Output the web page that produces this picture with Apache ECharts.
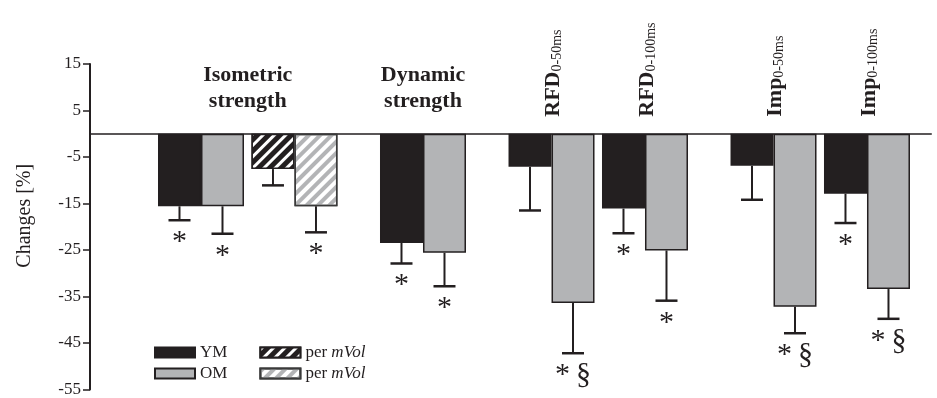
<!DOCTYPE html>
<html>
<head>
<meta charset="utf-8">
<script src="https://cdn.jsdelivr.net/npm/echarts@6/dist/echarts.min.js"></script>
<style>
html,body{margin:0;padding:0;background:#fff;}
#chart{width:937px;height:398px;}
</style>
</head>
<body>
<div id="chart"></div>
<script>
// ---- data ----
const categories = ['Isometric strength', 'Isometric strength per mVol', 'Dynamic strength', 'RFD 0-50ms', 'RFD 0-100ms', 'Imp 0-50ms', 'Imp 0-100ms'];
const groupOf = [0, 0, 1, 2, 2, 3, 3];
const ymValues = [-15.6, -7.6, -23.5, -7.1, -16.1, -6.9, -12.9];
const ymErrors = [3.0, 3.5, 4.4, 9.4, 5.3, 7.3, 6.3];
const omValues = [-15.6, -15.6, -25.6, -36.4, -25.1, -37.2, -33.4];
const omErrors = [5.9, 5.6, 7.2, 10.8, 10.8, 5.7, 6.4];
const ymSig = ['*', '', '*', '', '*', '', '*'];
const omSig = ['*', '*', '*', '*\u2009§', '*', '*\u2009§', '*\u2009§'];
const titleTexts = ['Isometric\nstrength', 'Dynamic\nstrength', 'RFD{s|0-50ms}', 'RFD{s|0-100ms}', 'Imp{s|0-50ms}', 'Imp{s|0-100ms}'];
const titleOf = [[0, 1], [2], [3], [4], [5], [6]];
const yTicks = [-55, -45, -35, -25, -15, -5, 5, 15];
const legendNames = ['YM', 'OM', 'YM per mVol', 'OM per mVol'];

// ---- layout on a fine category axis ----
const FONT = "'Liberation Serif', 'Times New Roman', serif";
const INK = '#231f20';
const GRAY = '#b3b4b6';
const START = 9, NEAR = 8, FAR = 11, TOTAL = 72;
const slot = [];
categories.forEach((c, i) => {
  slot.push(i === 0 ? START : slot[i - 1] + (groupOf[i] === groupOf[i - 1] ? NEAR : FAR));
});
const fineCats = Array.from({length: TOTAL}, (_, k) => String(k));
const isVol = i => i === 1;
function fine(values, pick) {
  const arr = new Array(TOTAL).fill(null);
  values.forEach((v, i) => { if (pick(i)) arr[slot[i]] = v; });
  return arr;
}
const BAR_W = 43;

function errSeries(name, values, errors, sig, sign) {
  return {
    type: 'custom', name: name + ' err', z: 5, silent: true,
    data: values.map((v, i) => [slot[i], v, errors[i]]),
    encode: {x: 0, y: 1},
    renderItem: function (params, api) {
      const s = api.value(0), v = api.value(1), e = api.value(2);
      const top = api.coord([s, v]);
      const end = api.coord([s, v - e]);
      const x = top[0] + sign * BAR_W / 2;
      const children = [
        {type: 'line', shape: {x1: x, y1: top[1], x2: x, y2: end[1]}, style: {stroke: INK, lineWidth: 2}},
        {type: 'line', shape: {x1: x - 11, y1: end[1], x2: x + 11, y2: end[1]}, style: {stroke: INK, lineWidth: 2.5}}
      ];
      const t = sig[params.dataIndex];
      if (t) {
        children.push({type: 'text', x: x, y: end[1] + 7, style: {text: t, fill: INK, font: '30px ' + FONT, align: 'center', verticalAlign: 'top'}});
      }
      return {type: 'group', children: children};
    }
  };
}

const titleSeries = {
  type: 'custom', name: 'titles', z: 6, silent: true,
  data: titleOf.map(ix => [ix.reduce((a, i) => a + slot[i], 0) / ix.length, 0]),
  encode: {x: 0, y: 1},
  renderItem: function (params, api) {
    const p = api.coord([api.value(0), 0]);
    const txt = titleTexts[params.dataIndex];
    if (txt.indexOf('\n') >= 0) {
      return {type: 'text', x: p[0], y: p[1] - 19, style: {
        text: txt, fill: INK, fontFamily: FONT, fontWeight: 'bold', fontSize: 22, lineHeight: 26,
        align: 'center', verticalAlign: 'bottom'}};
    }
    return {type: 'text', x: p[0] + 2, y: p[1] - 17, rotation: Math.PI / 2, style: {
      text: txt, fill: INK, fontFamily: FONT, fontWeight: 'bold', fontSize: 22, lineHeight: 22,
      align: 'left', verticalAlign: 'middle',
      rich: {s: {fontFamily: FONT, fontWeight: 'normal', fontSize: 14, lineHeight: 14, verticalAlign: 'bottom', fill: INK}}
    }};
  }
};

const chart = echarts.init(document.getElementById('chart'), null, {renderer: 'canvas'});
const volFormatter = function (name) { return name.indexOf('mVol') >= 0 ? 'per {i|mVol}' : name; };
const legendText = {fontFamily: FONT, fontSize: 17, color: INK, rich: {i: {fontFamily: FONT, fontSize: 17, fontStyle: 'italic', color: INK}}};
chart.setOption({
  animation: false,
  backgroundColor: '#fff',
  grid: {left: 90, top: 64, width: TOTAL * 11.684, height: 326, containLabel: false},
  legend: [
    {data: [legendNames[0], legendNames[2]], left: 154, top: 344, padding: 0, itemGap: 32, itemWidth: 40, itemHeight: 10, icon: 'rect', selectedMode: false, formatter: volFormatter, textStyle: legendText},
    {data: [legendNames[1], legendNames[3]], left: 154, top: 365, padding: 0, itemGap: 32, itemWidth: 40, itemHeight: 10, icon: 'rect', selectedMode: false, formatter: volFormatter, textStyle: legendText}
  ],
  xAxis: {
    type: 'category', data: fineCats, boundaryGap: true,
    axisLine: {show: true, onZero: true, lineStyle: {color: INK, width: 1.5}},
    axisTick: {show: false}, axisLabel: {show: false}, splitLine: {show: false}
  },
  yAxis: {
    type: 'value', min: yTicks[0], max: yTicks[yTicks.length - 1], interval: 10,
    name: 'Changes [%]', nameLocation: 'middle', nameGap: 55, nameRotate: 90,
    nameTextStyle: {fontFamily: FONT, fontSize: 20, color: INK, padding: [0, 0, 0, 22]},
    axisLine: {show: true, lineStyle: {color: INK, width: 2}},
    axisTick: {show: true, length: 7, lineStyle: {color: INK, width: 1.5}},
    axisLabel: {fontFamily: FONT, fontSize: 17, color: INK, margin: 9},
    splitLine: {show: false}
  },
  series: [
    {type: 'bar', name: legendNames[0], stack: 'ym', barWidth: BAR_W, barGap: '0%', data: fine(ymValues, i => !isVol(i)),
     itemStyle: {color: INK, borderColor: INK, borderWidth: 1.5}},
    {type: 'bar', name: legendNames[1], stack: 'om', barWidth: BAR_W, barGap: '0%', data: fine(omValues, i => !isVol(i)),
     itemStyle: {color: GRAY, borderColor: INK, borderWidth: 1.5}},
    {type: 'bar', name: legendNames[2], stack: 'ym', barWidth: BAR_W, barGap: '0%', data: fine(ymValues, isVol),
     itemStyle: {color: INK, borderColor: INK, borderWidth: 1.5,
       decal: {symbol: 'rect', symbolSize: 1, dashArrayX: [1, 0], dashArrayY: [3, 5], rotation: -Math.PI / 4, color: '#ffffff'}}},
    {type: 'bar', name: legendNames[3], stack: 'om', barWidth: BAR_W, barGap: '0%', data: fine(omValues, isVol),
     itemStyle: {color: '#ffffff', borderColor: '#3a3a3a', borderWidth: 1.5,
       decal: {symbol: 'rect', symbolSize: 1, dashArrayX: [1, 0], dashArrayY: [4, 4], rotation: -Math.PI / 4, color: GRAY}}},
    errSeries('YM', ymValues, ymErrors, ymSig, -1),
    errSeries('OM', omValues, omErrors, omSig, 1),
    titleSeries
  ]
});
</script>
</body>
</html>
